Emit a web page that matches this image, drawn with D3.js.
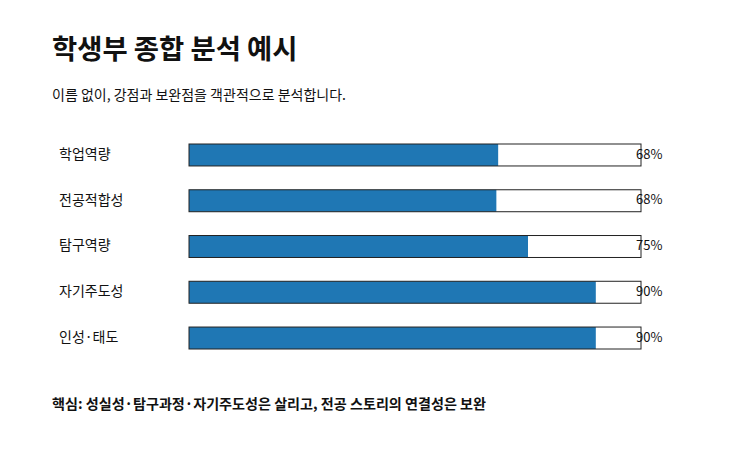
<!DOCTYPE html>
<html>
<head>
<meta charset="utf-8">
<script src="https://cdn.jsdelivr.net/npm/d3@7"></script>
<style>
  body { margin: 0; background: #fff; }
  svg text { font-family: "Noto Sans CJK KR", "Noto Sans", sans-serif; fill: #111; }
</style>
</head>
<body>
<div id="chart"></div>
<script>
// Data
const categories = ["학업역량", "전공적합성", "탐구역량", "자기주도성", "인성·태도"];
const scores = [68.4, 68, 75, 90, 90];
const scoreLabels = ["68%", "68%", "75%", "90%", "90%"];

const title = "학생부 종합 분석 예시";
const subtitle = "이름 없이, 강점과 보완점을 객관적으로 분석합니다.";
const note = "핵심: 성실성·탐구과정·자기주도성은 살리고, 전공 스토리의 연결성은 보완";

const width = 743;
const height = 451;

const svg = d3.select("#chart")
    .append("svg")
    .attr("width", width)
    .attr("height", height);

svg.append("rect")
    .attr("width", width)
    .attr("height", height)
    .attr("fill", "#fff");

// Titles
svg.append("text")
    .attr("x", 52).attr("y", 59)
    .style("font-size", "27.4px")
    .style("font-weight", "700")
    .text(title);

svg.append("text")
    .attr("x", 52).attr("y", 100)
    .style("font-size", "14px")
    .text(subtitle);

// Scales
const x = d3.scaleLinear()
    .domain([0, 100])
    .range([189, 641]);

const y = d3.scaleBand()
    .domain(categories)
    .range([144, 349])
    .paddingInner(0.52)
    .paddingOuter(0);

const rows = svg.selectAll(".row")
    .data(categories)
    .enter().append("g")
    .attr("class", "row");

// Category labels
rows.append("text")
    .attr("x", 59)
    .attr("y", d => y(d) + y.bandwidth() / 2)
    .attr("dominant-baseline", "middle")
    .style("font-size", "14px")
    .text(d => d);

// Track background
rows.append("rect")
    .attr("x", x(0))
    .attr("y", d => y(d))
    .attr("width", x(100) - x(0))
    .attr("height", y.bandwidth())
    .attr("fill", "#fff");

// Filled bar
rows.append("rect")
    .attr("x", x(0))
    .attr("y", d => y(d))
    .attr("width", (d, i) => x(scores[i]) - x(0))
    .attr("height", y.bandwidth())
    .attr("fill", "#1f77b4");

// Track outline
rows.append("rect")
    .attr("x", x(0))
    .attr("y", d => y(d))
    .attr("width", x(100) - x(0))
    .attr("height", y.bandwidth())
    .attr("fill", "none")
    .attr("stroke", "#222")
    .attr("stroke-width", 1);

// Percent labels
rows.append("text")
    .attr("x", x(100) - 5)
    .attr("y", d => y(d) + y.bandwidth() / 2)
    .attr("dominant-baseline", "middle")
    .style("font-size", "13px")
    .text((d, i) => scoreLabels[i]);

// Note
svg.append("text")
    .attr("x", 52).attr("y", 409)
    .style("font-size", "14.1px")
    .style("font-weight", "700")
    .text(note);
</script>
</body>
</html>
